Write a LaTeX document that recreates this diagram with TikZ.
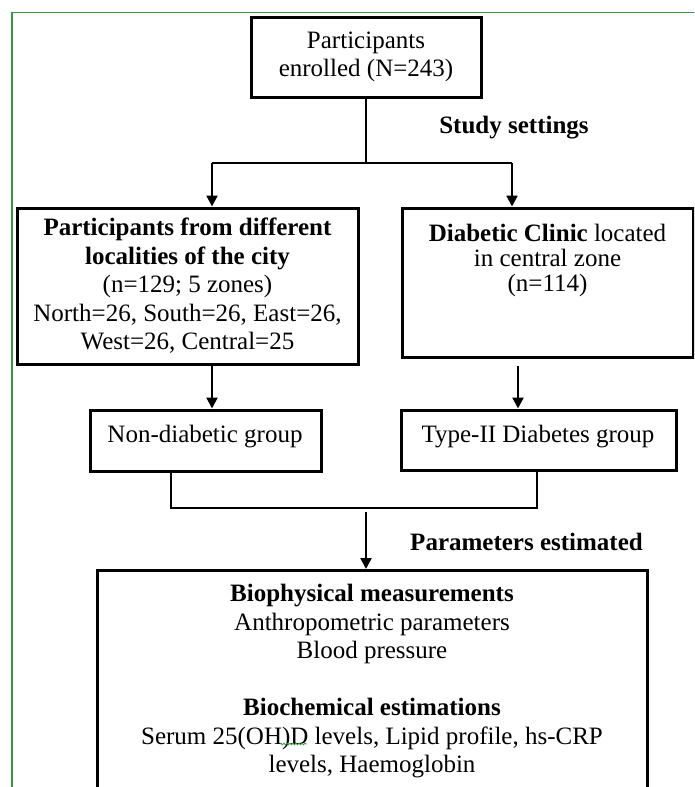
\documentclass[tikz,border=0pt]{standalone}
\usepackage{fontspec}
\setmainfont{Liberation Serif}
\usetikzlibrary{arrows.meta,decorations.pathmorphing}
\definecolor{framegreen}{RGB}{56,150,72}
\tikzset{
  box/.style={draw=black, line width=3pt, inner sep=0pt},
  txt/.style={align=center, inner sep=0pt, font=\fontsize{25}{28.5}\selectfont},
  conn/.style={draw=black, line width=2.3pt},
  arr/.style={conn, -{Triangle[width=11pt,length=11pt]}},
}
\begin{document}
\begin{tikzpicture}[x=1pt,y=-1pt]
\useasboundingbox (0,0) rectangle (694,787);
\clip (0,0) rectangle (694,787);
\draw[framegreen, line width=1.3pt] (12,800) -- (12,12.7) -- (700,12.7);

% top box
\node[box, txt, minimum width=230pt, minimum height=80pt] (enroll) at (366,57) {Participants\\enrolled (N=243)};
\node[txt] (settings) at (514,128) {\textbf{Study settings}};

\coordinate (j1) at (366,163);
\coordinate (jl) at (212,163);
\coordinate (jr) at (512,163);

% second row
\node[box, txt, minimum width=341pt, minimum height=156pt] (local) at (187.5,286)
  {\textbf{Participants from different}\\\textbf{localities of the city}\\(n=129; 5 zones)\\North=26, South=26, East=26,\\West=26, Central=25};
\node[box, minimum width=291pt, minimum height=149pt] (clinic) at (547.5,282.5) {};
\node[txt, font=\fontsize{25}{25}\selectfont, anchor=north] (clinictxt) at (547.5,223.5)
  {\textbf{Diabetic Clinic} located\\in central zone\\(n=114)};

\draw[conn] (enroll.south) -- (j1);
\draw[conn] (jl) -- (jr);
\draw[arr] (jl) -- (jl |- local.north);
\draw[arr] (jr) -- (jr |- clinic.north);

% third row
\node[box, minimum width=231pt, minimum height=61pt] (nondiab) at (205.5,440.5) {};
\node[txt] (nondiabtxt) at (205,437) {Non-diabetic group};
\node[box, minimum width=275pt, minimum height=60pt] (type2) at (538.5,440) {};
\node[txt] (type2txt) at (538,437) {Type-II Diabetes group};

\coordinate (rx) at (518,357);
\draw[arr] (local.south -| jl) -- (nondiab.north -| jl);
\draw[arr, shorten <=7pt] (clinic.south -| rx) -- (type2.north -| rx);

% merge
\coordinate (ml) at (171,508);
\coordinate (mr) at (537,508);
\coordinate (mtop) at (366,508);
\draw[conn] (nondiab.south -| ml) -- (ml) -- (mr) -- (type2.south -| mr);

% parameters
\node[txt] (paramslbl) at (526.5,542) {\textbf{Parameters estimated}};
\node[box, minimum width=550pt, minimum height=260pt, anchor=north] (params) at (372,569) {};
\draw[arr, shorten <=4pt] (mtop) -- (mtop |- params.north);
\node[txt, anchor=north] (paramstxt) at (372,584)
  {\textbf{Biophysical measurements}\\Anthropometric parameters\\Blood pressure\\[28.5pt]
   \textbf{Biochemical estimations}\\Serum 25(OH)D levels, Lipid profile, hs-CRP\\levels, Haemoglobin};
\draw[framegreen, line width=0.8pt, decorate, decoration={snake, amplitude=0.8pt, segment length=3pt}] (280,744) -- (307,744);
\end{tikzpicture}
\end{document}
